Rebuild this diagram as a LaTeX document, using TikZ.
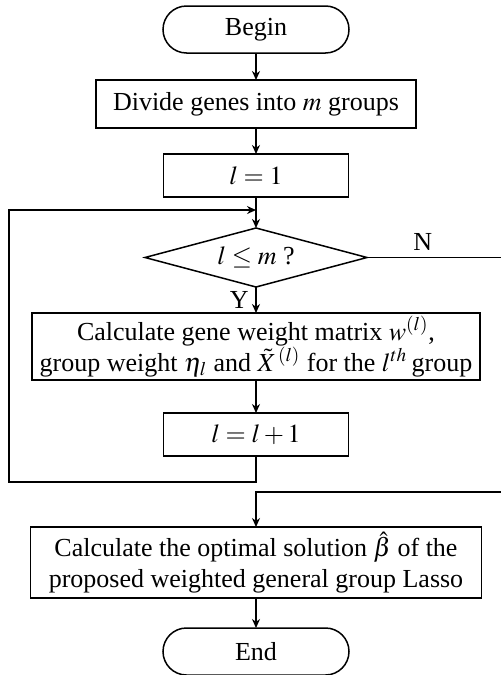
\documentclass[tikz,border=0pt]{standalone}
\usepackage{mathptmx}
\usepackage[no-math]{fontspec}
\setmainfont{Liberation Serif}
\usetikzlibrary{arrows.meta,calc,positioning,shapes.geometric}

\begin{document}
\begin{tikzpicture}[
      x=0.5pt, y=0.5pt,
      font=\fontsize{13}{15.5}\selectfont,
      node distance=13pt,
      base/.style={draw, line width=0.75pt, align=center, inner sep=0pt,
        outer sep=0pt},
      terminal/.style={base, minimum width=93pt, minimum height=23.5pt,
        rounded corners=11.75pt},
      process/.style={base, minimum width=92.5pt, minimum height=21.5pt},
      widebox/.style={base, minimum width=224pt, minimum height=33.5pt},
      decision/.style={base, diamond, aspect=3.76, minimum width=111pt,
        minimum height=29.5pt},
      arrow/.style={-{Stealth[length=4.5pt,width=4pt]}, line width=0.75pt}
    ]
    \useasboundingbox (0,0) rectangle (500,-675);

    \node[terminal] (begin) at (256,-29.5) {Begin};
    \node[process, minimum width=160pt, minimum height=24pt, below=13.5pt of begin] (divide) {Divide genes into $m$ groups};
    \node[process, below=13pt of divide] (lone) {$l=1$};
    \node[decision, below=15.5pt of lone] (cond) {$l\le m$ ?};
    \node[widebox, below=13pt of cond] (gene) {Calculate gene weight matrix $w^{(l)}$,\\group weight $\eta_l$ and $\tilde{X}^{\,(l)}$ for the $l^{th}$\,group};
    \node[process, below=16.5pt of gene] (inc) {$l=l+1$};
    \node[widebox, minimum width=225.5pt, minimum height=35.5pt, below=35.5pt of inc] (final) {Calculate the optimal solution $\hat{\beta}$ of the\\proposed weighted general group Lasso};
    \node[terminal, below=15pt of final] (end) {End};

    \coordinate (leftrail) at (9,0);
    \coordinate (rightrail) at (503,0);
    \coordinate (join) at ($(lone.south)!0.42!(cond.north)$);
    \coordinate (loopcorner) at ([yshift=-13pt]inc.south);
    \coordinate (merge) at ($(final.north)+(0,17.5pt)$);

    \draw[arrow] (begin) -- (divide);
    \draw[arrow] (divide) -- (lone);
    \draw[arrow] (lone) -- (cond);
    \draw[arrow] (cond) -- node[left] {Y} (gene);
    \draw[arrow] (gene) -- (inc);
    \draw[arrow] (inc) -- (loopcorner) -- (loopcorner -| leftrail) |- (join);
    \draw[arrow] (cond.east) -- node[above, pos=0.41] {N}
      (cond.east -| rightrail) |- (merge) -- (final);
    \draw[arrow] (final) -- (end);
  \end{tikzpicture}
\end{document}
